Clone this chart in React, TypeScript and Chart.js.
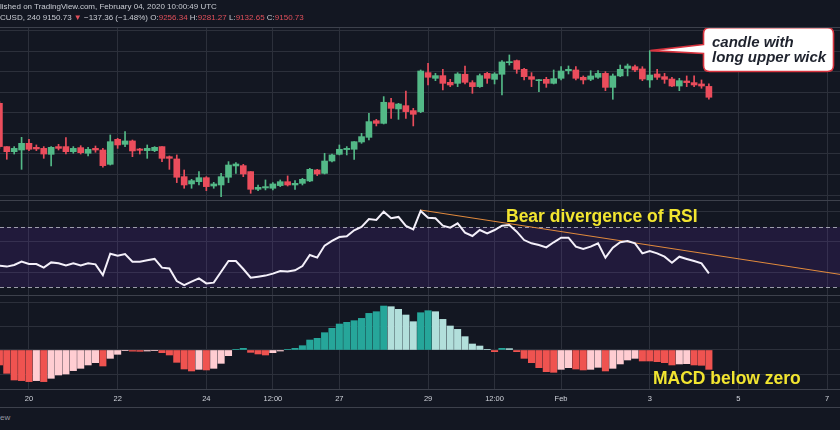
import React, { useEffect, useRef } from "react";
import { Chart, registerables } from "chart.js";

Chart.register(...registerables);

// ---------- data (4h candles, index 0 = Jan 20 00:00 UTC) ----------
const START_INDEX = -4;
const OPEN = [
  9092, 8671, 8622, 8638, 8703, 8664, 8654, 8596, 8671, 8671, 8622, 8661, 8606, 8654, 8638, 8499,
  8742, 8693, 8726, 8648, 8632, 8632, 8671, 8573, 8551, 8379, 8308, 8330, 8369, 8288, 8298, 8373,
  8483, 8486, 8428, 8256, 8269, 8266, 8292, 8330, 8298, 8314, 8337, 8444, 8411, 8531, 8596, 8642,
  8645, 8716, 8761, 8923, 8897, 9098, 9037, 9069, 9021, 9011, 9390, 9335, 9361, 9296, 9286, 9374,
  9293, 9254, 9383, 9325, 9374, 9487, 9507, 9422, 9351, 9312, 9325, 9286, 9335, 9409, 9416, 9345,
  9325, 9345, 9383, 9247, 9358, 9432, 9448, 9426, 9319, 9377, 9351, 9328, 9260, 9309, 9293, 9280,
  9256.34,
];
const HIGH = [
  9108, 8671, 8671, 8761, 8742, 8687, 8671, 8671, 8693, 8758, 8671, 8680, 8664, 8677, 8654, 8784,
  8752, 8816, 8735, 8654, 8687, 8671, 8671, 8580, 8590, 8444, 8353, 8428, 8379, 8324, 8411, 8525,
  8515, 8499, 8428, 8298, 8347, 8321, 8347, 8386, 8340, 8363, 8460, 8450, 8606, 8599, 8687, 8671,
  8719, 8800, 8995, 8936, 9157, 9140, 9092, 9212, 9043, 9416, 9481, 9383, 9422, 9325, 9390, 9455,
  9312, 9377, 9393, 9390, 9507, 9562, 9513, 9432, 9390, 9325, 9345, 9416, 9448, 9455, 9448, 9358,
  9409, 9409, 9400, 9377, 9464, 9474, 9464, 9448, 9604, 9422, 9383, 9345, 9335, 9358, 9358, 9319,
  9281.27,
];
const LOW = [
  8654, 8548, 8599, 8450, 8632, 8632, 8557, 8483, 8638, 8599, 8606, 8599, 8580, 8616, 8470, 8492,
  8654, 8671, 8573, 8599, 8557, 8622, 8525, 8450, 8321, 8266, 8266, 8298, 8243, 8266, 8185, 8321,
  8411, 8379, 8217, 8243, 8250, 8250, 8282, 8288, 8256, 8298, 8330, 8389, 8405, 8522, 8590, 8590,
  8547, 8703, 8735, 8872, 8891, 8946, 8936, 8946, 8872, 9001, 9270, 9312, 9221, 9254, 9254, 9280,
  9189, 9247, 9286, 9280, 9173, 9464, 9383, 9319, 9254, 9205, 9247, 9280, 9319, 9377, 9319, 9280,
  9312, 9335, 9215, 9131, 9351, 9358, 9400, 9312, 9247, 9325, 9286, 9254, 9215, 9254, 9254, 9238,
  9132.65,
];
const CLOSE = [
  8671, 8622, 8654, 8703, 8645, 8648, 8599, 8664, 8654, 8622, 8654, 8612, 8645, 8638, 8486, 8719,
  8687, 8726, 8629, 8635, 8654, 8664, 8557, 8557, 8373, 8298, 8340, 8369, 8282, 8308, 8379, 8492,
  8502, 8405, 8256, 8275, 8282, 8308, 8330, 8298, 8314, 8353, 8450, 8405, 8531, 8590, 8645, 8654,
  8719, 8768, 8914, 8897, 9102, 9043, 9085, 9011, 8985, 9406, 9345, 9361, 9286, 9270, 9377, 9296,
  9254, 9361, 9335, 9377, 9494, 9497, 9422, 9351, 9325, 9319, 9286, 9332, 9406, 9422, 9335, 9319,
  9358, 9383, 9247, 9358, 9422, 9455, 9416, 9328, 9367, 9345, 9325, 9260, 9312, 9293, 9270, 9260,
  9150.73,
];
const RSI = [
  44.2, 43.6, 44.7, 46.9, 45.3, 45.3, 42.9, 46.4, 45.8, 44.4, 45.8, 44.4, 45.8, 45.1, 38.0, 52.2,
  50.9, 52.0, 46.9, 46.9, 47.8, 48.7, 42.9, 42.4, 34.0, 31.3, 33.6, 35.8, 32.4, 32.9, 40.2, 47.3,
  47.3, 42.0, 36.2, 36.9, 37.6, 38.9, 40.7, 40.4, 41.1, 44.0, 51.3, 49.6, 57.6, 60.7, 63.3, 63.8,
  67.8, 70.0, 75.3, 74.7, 80.2, 75.8, 76.7, 70.7, 68.4, 80.7, 76.2, 75.8, 70.9, 69.6, 72.4, 66.2,
  64.0, 68.0, 65.8, 68.0, 70.9, 71.3, 66.9, 61.3, 59.1, 58.0, 56.4, 59.8, 62.9, 62.9, 56.9, 55.3,
  56.9, 59.1, 49.6, 56.2, 59.8, 60.7, 59.1, 52.4, 54.0, 52.4, 50.2, 46.2, 50.2, 48.7, 47.3, 45.8,
  39.1,
];
const MACD_HIST = [
  -31.2, -48.6, -62.5, -63.8, -65.9, -63.8, -65.9, -59.0, -52.1, -50.0, -43.0, -38.2, -31.2, -26.4, -33.3, -17.4,
  -9.0, -0.7, -2.4, -2.8, -2.1, -1.4, -5.6, -10.4, -25.7, -39.6, -43.7, -40.3, -41.6, -38.2, -27.8, -11.8,
  1.4, 3.5, -4.9, -8.3, -10.4, -5.6, -2.1, 0.7, 3.5, 9.0, 20.8, 24.3, 36.1, 45.1, 54.1, 57.6,
  61.1, 65.9, 76.3, 79.8, 91.6, 90.2, 84.7, 72.9, 59.0, 77.7, 81.9, 79.8, 63.8, 50.0, 43.0, 27.8,
  12.5, 8.3, 0.7, -3.5, 3.5, 2.8, -3.5, -17.4, -26.4, -36.8, -45.1, -46.5, -40.3, -36.8, -39.6, -41.6,
  -40.3, -36.1, -43.7, -38.2, -29.1, -20.8, -17.4, -22.9, -22.9, -24.3, -26.4, -31.2, -29.1, -28.5, -31.2, -31.9,
  -40.3,
];
const TICK_POS = [0, 12, 24, 33, 42, 54, 63, 72, 84, 96, 108];
const TICK_LABELS = ["20", "22", "24", "12:00", "27", "29", "12:00", "Feb", "3", "5", "7"];
const PRICE_TICKS = [8200, 8400, 8600, 8800, 9000, 9200, 9400, 9600, 9800];
const RSI_TICKS = [40, 60, 80];
const RSI_LEVELS = [70, 30];
const MACD_TICKS = [-50, 0, 50, 100];
const TREND_X = [53, 112];
const TREND_Y = [81.3, 36.7];
const CALLOUT_INDEX = 84;

const HEADER_1 = "lished on TradingView.com, February 04, 2020 10:00:49 UTC";
const HEADER_2 = ["CUSD, 240 9150.73 ", "▼", " −137.36 (−1.48%) O:", "9256.34", " H:", "9281.27", " L:", "9132.65", " C:", "9150.73"];

// ---------- layout / style ----------
const W = 840;
const X_MIN = -3.92;
const X_MAX = 109.74;
const BG = "#131722";
const GRID = "#2c303b";
const SEP = "#3d414c";
const UP = "#53b987";
const DOWN = "#eb4d5c";
const FONT = "'Liberation Sans', Arial, sans-serif";

const IDX = OPEN.map((_, k) => START_INDEX + k);

const xScale = (labels: boolean) => ({
  type: "linear",
  position: "bottom",
  min: X_MIN,
  max: X_MAX,
  offset: false,
  afterBuildTicks: (s: any) => {
    s.ticks = TICK_POS.map((v) => ({ value: v }));
  },
  afterFit: (s: any) => {
    s.height = labels ? 18 : 0;
  },
  grid: { color: GRID, drawTicks: false, offset: false, lineWidth: 1 },
  border: { display: false },
  ticks: {
    display: labels,
    autoSkip: false,
    maxRotation: 0,
    padding: 5,
    color: "#d1d4dc",
    font: { size: 7.5, family: FONT },
    callback: (v: any) => {
      const k = TICK_POS.indexOf(v);
      return k >= 0 ? TICK_LABELS[k] : "";
    },
  },
});

const yScale = (min: number, max: number, ticks: number[]) => ({
  type: "linear",
  position: "right",
  min,
  max,
  afterBuildTicks: (s: any) => {
    s.ticks = ticks.map((v) => ({ value: v }));
  },
  afterFit: (s: any) => {
    s.width = 0;
  },
  grid: { color: GRID, drawTicks: false },
  border: { display: false },
  ticks: { display: false },
});

const common = {
  responsive: false,
  maintainAspectRatio: false,
  animation: false as const,
  events: [] as any[],
  plugins: { legend: { display: false }, tooltip: { enabled: false } },
};

const calloutPlugin = {
  id: "callout",
  afterDatasetsDraw(chart: any) {
    const k = CALLOUT_INDEX - START_INDEX;
    const tipX = chart.scales.x.getPixelForValue(CALLOUT_INDEX);
    const tipY = chart.scales.y.getPixelForValue(HIGH[k]);
    const ctx = chart.ctx;
    const L = 703.5, T = 27.8, R = 833.5, B = 71.5, r = 6;
    ctx.save();
    ctx.beginPath();
    ctx.moveTo(L, 44.5);
    ctx.lineTo(tipX + 0.5, tipY);
    ctx.lineTo(L, 53.5);
    ctx.lineTo(L, B - r);
    ctx.quadraticCurveTo(L, B, L + r, B);
    ctx.lineTo(R - r, B);
    ctx.quadraticCurveTo(R, B, R, B - r);
    ctx.lineTo(R, T + r);
    ctx.quadraticCurveTo(R, T, R - r, T);
    ctx.lineTo(L + r, T);
    ctx.quadraticCurveTo(L, T, L, T + r);
    ctx.closePath();
    ctx.fillStyle = "#ffffff";
    ctx.fill();
    ctx.strokeStyle = "#d8343f";
    ctx.lineWidth = 1.6;
    ctx.stroke();
    ctx.restore();
  },
};

const rsiBandPlugin = {
  id: "rsiBand",
  beforeDatasetsDraw(chart: any) {
    const { ctx, chartArea, scales } = chart;
    const yTop = scales.y.getPixelForValue(RSI_LEVELS[0]);
    const yBot = scales.y.getPixelForValue(RSI_LEVELS[1]);
    ctx.save();
    ctx.fillStyle = "rgba(120, 50, 210, 0.14)";
    ctx.fillRect(chartArea.left, yTop, chartArea.right - chartArea.left, yBot - yTop);
    ctx.strokeStyle = "rgba(200, 202, 212, 0.75)";
    ctx.lineWidth = 1;
    ctx.setLineDash([4, 3]);
    [yTop, yBot].forEach((y) => {
      const yy = Math.round(y) + 0.5;
      ctx.beginPath();
      ctx.moveTo(chartArea.left, yy);
      ctx.lineTo(chartArea.right, yy);
      ctx.stroke();
    });
    ctx.restore();
  },
};

export default function App() {
  const mainRef = useRef<HTMLCanvasElement>(null);
  const rsiRef = useRef<HTMLCanvasElement>(null);
  const macdRef = useRef<HTMLCanvasElement>(null);

  useEffect(() => {
    document.body.style.margin = "0";
    document.body.style.background = BG;
    const colors = IDX.map((_, k) => (CLOSE[k] >= OPEN[k] ? UP : DOWN));

    const main = new Chart(mainRef.current as HTMLCanvasElement, {
      type: "bar",
      data: {
        datasets: [
          {
            data: IDX.map((x, k) => ({ x, y: [OPEN[k], CLOSE[k]] })) as any,
            backgroundColor: colors,
            barThickness: 6,
            minBarLength: 1,
            grouped: false,
            borderWidth: 0,
            order: 0,
          } as any,
          {
            data: IDX.map((x, k) => ({ x, y: [LOW[k], HIGH[k]] })) as any,
            backgroundColor: colors,
            barThickness: 1,
            grouped: false,
            borderWidth: 0,
            order: 1,
          } as any,
        ],
      },
      options: {
        ...common,
        layout: { padding: { top: 28, left: 0, right: 0, bottom: 0 } },
        scales: {
          x: xScale(false) as any,
          y: yScale(8152, 9824, PRICE_TICKS) as any,
        },
      } as any,
      plugins: [calloutPlugin],
    });

    const rsi = new Chart(rsiRef.current as HTMLCanvasElement, {
      type: "line",
      data: {
        datasets: [
          {
            data: IDX.map((x, k) => ({ x, y: RSI[k] })),
            borderColor: "#f4f0fa",
            borderWidth: 2,
            pointRadius: 0,
            tension: 0,
            fill: false,
            order: 0,
          },
          {
            data: TREND_X.map((x, k) => ({ x, y: TREND_Y[k] })),
            borderColor: "#e38b3d",
            borderWidth: 1,
            pointRadius: 0,
            tension: 0,
            fill: false,
            order: 1,
          },
        ],
      },
      options: {
        ...common,
        layout: { padding: 0 },
        scales: {
          x: xScale(false) as any,
          y: yScale(24.67, 87.33, RSI_TICKS) as any,
        },
      } as any,
      plugins: [rsiBandPlugin],
    });

    const macdColors = MACD_HIST.map((v, k) => {
      const p = k > 0 ? MACD_HIST[k - 1] : v;
      if (v >= 0) return p < v ? "#26a69a" : "#b2dfdb";
      return p < v ? "#ffcdd2" : "#ef5350";
    });

    const macd = new Chart(macdRef.current as HTMLCanvasElement, {
      type: "bar",
      data: {
        datasets: [
          {
            data: IDX.map((x, k) => ({ x, y: MACD_HIST[k] })) as any,
            backgroundColor: macdColors,
            barThickness: 6.4,
            grouped: false,
            borderWidth: 0,
          } as any,
        ],
      },
      options: {
        ...common,
        layout: { padding: 0 },
        scales: {
          x: xScale(true) as any,
          y: yScale(-81.25, 112.5, MACD_TICKS) as any,
        },
      } as any,
    });

    return () => {
      main.destroy();
      rsi.destroy();
      macd.destroy();
    };
  }, []);

  const line = (top: number): React.CSSProperties => ({
    position: "absolute",
    left: 0,
    top,
    width: W,
    height: 1,
    background: SEP,
  });
  const red = "#e0505b";

  return (
    <div
      style={{
        position: "fixed",
        left: 0,
        top: 0,
        width: W,
        height: 430,
        background: BG,
        overflow: "hidden",
        fontFamily: FONT,
      }}
    >
      <canvas ref={mainRef} width={W} height={200} style={{ position: "absolute", left: 0, top: 0 }} />
      <canvas ref={rsiRef} width={W} height={94} style={{ position: "absolute", left: 0, top: 201 }} />
      <canvas ref={macdRef} width={W} height={111} style={{ position: "absolute", left: 0, top: 296 }} />
      <div style={line(27)} />
      <div style={line(200)} />
      <div style={line(295)} />
      <div style={line(389)} />
      <div style={line(407)} />

      <div
        style={{
          position: "absolute",
          left: 0,
          top: 2,
          fontSize: 8,
          lineHeight: "10px",
          color: "#c9ccd3",
          whiteSpace: "nowrap",
        }}
      >
        {HEADER_1}
      </div>
      <div
        style={{
          position: "absolute",
          left: 0,
          top: 13,
          fontSize: 8,
          lineHeight: "10px",
          color: "#c9ccd3",
          whiteSpace: "nowrap",
        }}
      >
        {HEADER_2.map((t, k) => (
          <span key={k} style={{ color: k % 2 === 1 ? red : "#c9ccd3" }}>
            {t}
          </span>
        ))}
      </div>

      <div
        style={{
          position: "absolute",
          left: 712,
          top: 34,
          fontSize: 15,
          lineHeight: "15px",
          fontWeight: "bold",
          fontStyle: "italic",
          color: "#1e222d",
          whiteSpace: "nowrap",
        }}
      >
        candle with
        <br />
        long upper wick
      </div>

      <div
        style={{
          position: "absolute",
          left: 506,
          top: 206,
          fontSize: 17.5,
          lineHeight: "20px",
          fontWeight: "bold",
          color: "#f2e530",
          whiteSpace: "nowrap",
        }}
      >
        Bear divergence of RSI
      </div>
      <div
        style={{
          position: "absolute",
          left: 653,
          top: 368,
          fontSize: 17.5,
          lineHeight: "20px",
          fontWeight: "bold",
          color: "#f2e530",
          whiteSpace: "nowrap",
        }}
      >
        MACD below zero
      </div>
      <div
        style={{
          position: "absolute",
          left: 0,
          top: 413,
          fontSize: 8,
          lineHeight: "10px",
          color: "#9598a1",
          whiteSpace: "nowrap",
        }}
      >
        ew
      </div>
    </div>
  );
}
